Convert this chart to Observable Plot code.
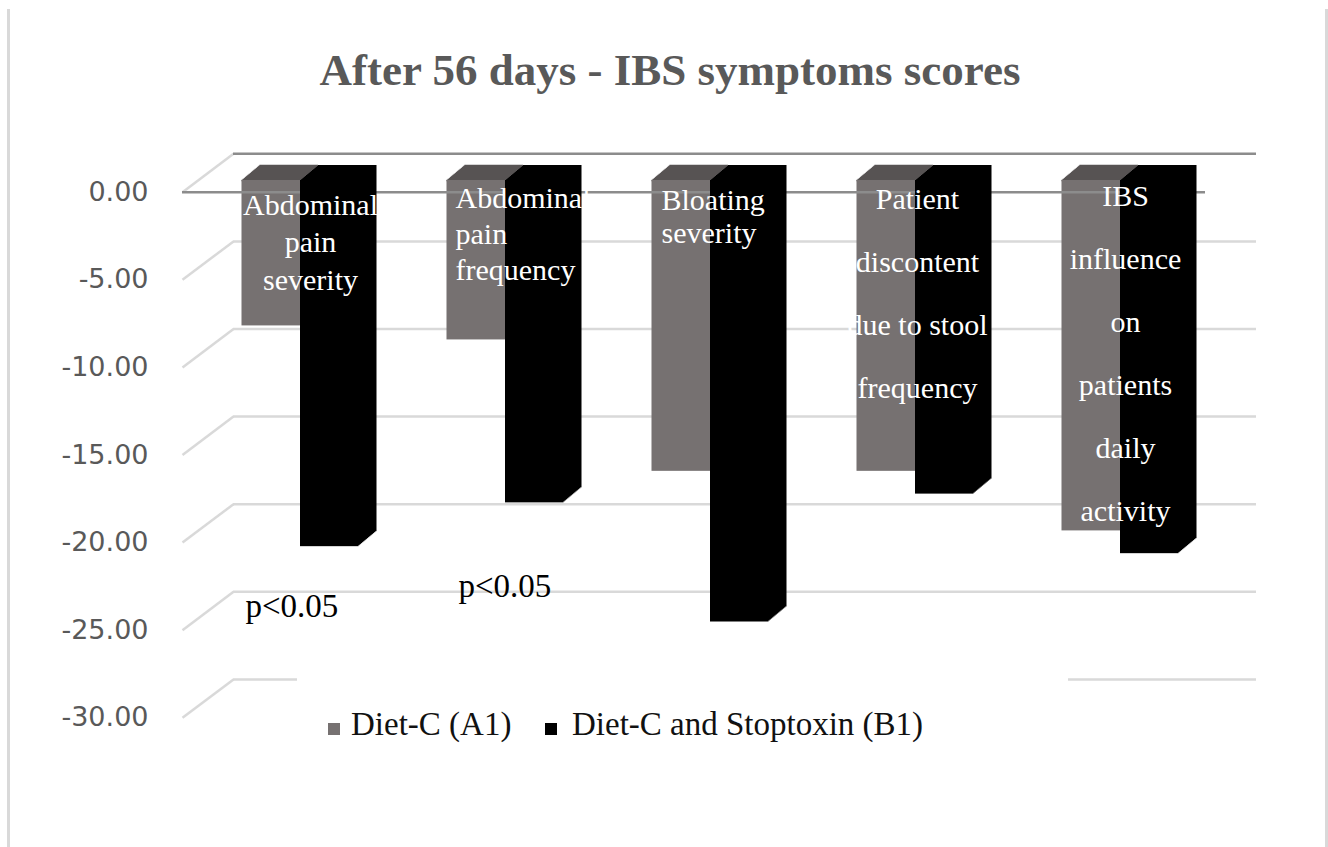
<!DOCTYPE html>
<html>
<head>
<meta charset="utf-8">
<script src="https://cdn.jsdelivr.net/npm/d3@7"></script>
<script src="https://cdn.jsdelivr.net/npm/@observablehq/plot@0.6"></script>
<style>
  html, body { margin: 0; padding: 0; background: #fff; }
  #wrap { position: relative; width: 1328px; height: 847px; overflow: hidden; background: #fff; }
  #chart { position: absolute; left: 0; top: 0; }
  #frame { position: absolute; left: 7px; top: 9px; width: 1321px; height: 860px; box-sizing: border-box;
           border-left: 3px solid #d9d9d9; border-right: 3px solid #d9d9d9; pointer-events: none; }
  #title { position: absolute; left: 0; top: 48px; width: 1340px; text-align: center;
           font: bold 45px/45px "Liberation Serif", serif; color: #595959; white-space: nowrap; }
  #legend { position: absolute; left: 297px; top: 672px; width: 771px; height: 100px; background: #fff; }
  #legend .item { position: absolute; top: 36px; font: 33px/33px "Liberation Serif", serif; color: #111; white-space: nowrap; }
  #legend .sw { position: absolute; top: 51px; width: 12px; height: 12px; }
</style>
</head>
<body>
<div id="wrap">
  <div id="chart"></div>
  <div id="frame"></div>
  <div id="title"></div>
  <div id="legend"></div>
</div>
<script>
// ---- data ----
const titleText = "After 56 days - IBS symptoms scores";
const categories = [
  "Abdominal pain severity",
  "Abdominal pain frequency",
  "Bloating severity",
  "Patient discontent due to stool frequency",
  "IBS influence on patients daily activity"
];
const categoryLabels = [
  "Abdominal\npain\nseverity",
  "Abdominal\npain\nfrequency",
  "Bloating\nseverity",
  "Patient\ndiscontent\ndue to stool\nfrequency",
  "IBS\ninfluence\non\npatients\ndaily\nactivity"
];
const series = ["Diet-C (A1)", "Diet-C and Stoptoxin (B1)"];
const dietC = [-8.3, -9.1, -16.6, -16.6, -20.0];
const dietCStoptoxin = [-20.9, -18.4, -25.2, -17.9, -21.3];
const yTicks = [0, -5, -10, -15, -20, -25, -30];
const pLabels = ["p<0.05", "p<0.05"];
const pLabelCategories = [0, 1];
const seriesColors = ["#767171", "#000000"];

// ---- table for the library ----
const rows = categories.flatMap((c, i) => [
  {i, category: c, series: series[0], s: 0, value: dietC[i]},
  {i, category: c, series: series[1], s: 1, value: dietCStoptoxin[i]}
]);
const rowsA = rows.filter(d => d.s === 0);
const rowsB = rows.filter(d => d.s === 1);

// ---- layout helpers (pixels) ----
const W = 1328, H = 847;
const pxPerCat = 205, pxPerUnit = 17.52;
const mLeft = 182, mRight = W - 1205, mTop = 180;
const mBottom = H - (mTop + 30 * pxPerUnit);
const xMin = (mLeft - 300) / pxPerCat;
const xMax = (W - mRight - 300) / pxPerCat;
const hw = 58.5 / pxPerCat;              // bar width in category units
const frontDy = 11.7;                    // front plane offset
const wallDx = 51, wallDy = -38.4;       // depth of the wall/floor
const barDX = 18, barDY = 15, K = 15;    // depth of the bars

const x1 = d => d.i + (d.s - 1) * hw;
const x2 = d => d.i + d.s * hw;

function prism(data, topColor) {
  const marks = [];
  for (let k = K; k >= 1; k--) {
    marks.push(Plot.rect(data, {x1, x2, y1: () => 0, y2: "value", fill: "series",
      dx: k * barDX / K, dy: -k * barDY / K}));
  }
  if (topColor) {
    for (let k = 0; k <= K; k++) {
      marks.push(Plot.ruleY(data, {x1, x2, y: () => 0, stroke: topColor, strokeWidth: 1.6,
        dx: k * barDX / K, dy: -k * barDY / K}));
    }
  }
  marks.push(Plot.rect(data, {x1, x2, y1: () => 0, y2: "value", fill: "series"}));
  return marks;
}

const labelFont = {fontFamily: "Liberation Serif", fontSize: 30, fill: "white", lineAnchor: "top"};
const labelStyles = [
  {textAnchor: "middle", at: "c", dx: 10, dy: 7.5, lineHeight: 1.25},
  {textAnchor: "start", at: "l", dx: 8.5, dy: 2.0, lineHeight: 1.2},
  {textAnchor: "start", at: "l", dx: 9.5, dy: 5.0, lineHeight: 1.13},
  {textAnchor: "middle", at: "c", dx: 2, dy: -16.9, lineHeight: 2.11},
  {textAnchor: "middle", at: "c", dx: 5, dy: -19.7, lineHeight: 2.1}
];
const labelRows = categoryLabels.map((t, i) => ({i, text: t}));
const labelMarks = labelStyles.map((st, i) =>
  Plot.text(labelRows.filter(d => d.i === i), {
    ...labelFont,
    x: d => st.at === "c" ? d.i : d.i - hw,
    y: () => 0,
    text: "text",
    textAnchor: st.textAnchor, dx: st.dx, dy: st.dy, lineHeight: st.lineHeight
  })
);

const pRows = pLabelCategories.map((c, j) => ({i: c, text: pLabels[j]}));
const pStyles = [{dx: 3.5, y: -23.6}, {dx: 11.5, y: -22.45}];
const pMarks = pStyles.map((st, j) =>
  Plot.text([pRows[j]], {
    x: d => d.i - hw, y: () => st.y, text: "text", dx: st.dx,
    textAnchor: "start", lineAnchor: "top",
    fontFamily: "Liberation Serif", fontSize: 33, fill: "#000"
  })
);

const chart = Plot.plot({
  width: W, height: H,
  marginLeft: mLeft, marginRight: mRight, marginTop: mTop, marginBottom: mBottom,
  style: {background: "transparent", color: "#595959", fontFamily: "DejaVu Sans"},
  x: {type: "linear", domain: [xMin, xMax], axis: null},
  y: {domain: [-30, 0], axis: null},
  color: {domain: series, range: seriesColors},
  marks: [
    // back wall gridlines
    Plot.ruleY(yTicks.filter(v => v !== 0), {dx: wallDx, dy: frontDy + wallDy, stroke: "#d9d9d9", strokeWidth: 2.5}),
    // left side diagonals
    Plot.link(yTicks, {
      x1: () => xMin, x2: () => xMin + wallDx / pxPerCat,
      y1: d => d, y2: d => d - wallDy / pxPerUnit,
      dy: frontDy, stroke: "#d9d9d9", strokeWidth: 2.5
    }),
    // back edge of the zero floor
    Plot.ruleY([0], {dx: wallDx, dy: frontDy + wallDy, stroke: "#8c8c8c", strokeWidth: 2.5}),
    // y axis labels
    Plot.axisY(yTicks, {
      anchor: "left", tickSize: 0, tickPadding: 34, dy: frontDy,
      tickFormat: d => d.toFixed(2), fontSize: 27, fontFamily: "DejaVu Sans",
      color: "#595959", label: null
    }),
    // Diet-C bars
    ...prism(rowsA, "#575353"),
    // front edge of the zero floor
    Plot.ruleY([0], {dy: frontDy, stroke: "#8c8c8c", strokeWidth: 2.5}),
    // Diet-C and Stoptoxin bars
    ...prism(rowsB, null),
    // category labels
    ...labelMarks,
    // significance notes
    ...pMarks
  ]
});
document.getElementById("chart").appendChild(chart);

document.getElementById("title").textContent = titleText;

// legend
const legend = document.getElementById("legend");
const legendPos = [{sw: 31, tx: 54}, {sw: 248, tx: 275}];
series.forEach((s, j) => {
  const sw = document.createElement("div");
  sw.className = "sw";
  sw.style.left = legendPos[j].sw + "px";
  sw.style.background = seriesColors[j];
  legend.appendChild(sw);
  const t = document.createElement("div");
  t.className = "item";
  t.style.left = legendPos[j].tx + "px";
  t.textContent = s;
  legend.appendChild(t);
});
</script>
</body>
</html>
